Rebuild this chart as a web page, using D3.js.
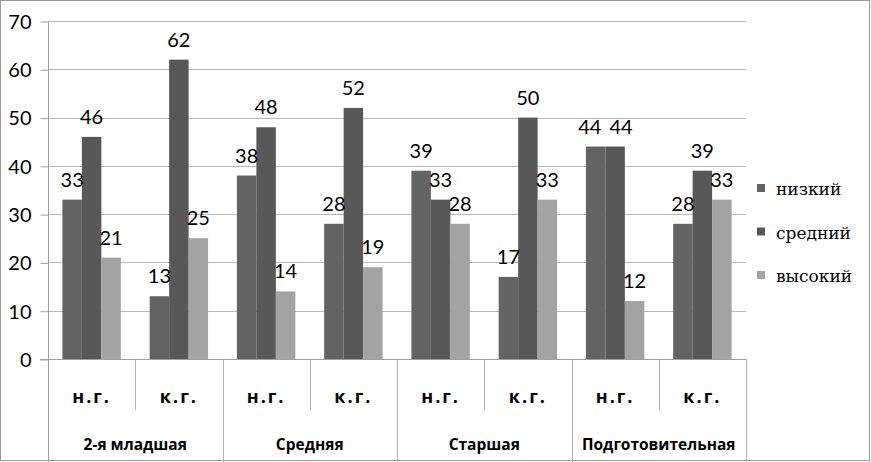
<!DOCTYPE html>
<html><head><meta charset="utf-8">
<script src="https://cdn.jsdelivr.net/npm/d3@7"></script>
<style>body{margin:0;background:#fff}svg{display:block}
</style>
</head><body>
<svg id="c" width="871" height="462"></svg>
<script>
const groups = ["2-я младшая", "Средняя", "Старшая", "Подготовительная"];
const periods = ["н.г.", "к.г."];
const seriesNames = ["низкий", "средний", "высокий"];
const nizkiy  = [33, 13, 38, 28, 39, 17, 44, 28];
const sredniy = [46, 62, 48, 52, 33, 50, 44, 39];
const vysokiy = [21, 25, 14, 19, 28, 33, 12, 33];
const yTicks = [0, 10, 20, 30, 40, 50, 60, 70];
const colors = ["#636363", "#585858", "#a3a3a3"];

const series = [nizkiy, sredniy, vysokiy];
const cats = [];
groups.forEach((g, gi) => periods.forEach((p, pi) => cats.push({g, p, i: gi * 2 + pi})));

const svg = d3.select("#c");
const L = 48, R = 746, T = 21, B = 359;
const x = d3.scaleBand().domain(cats.map(c => c.i)).range([L, R]).paddingInner(0).paddingOuter(0);
const bw = x.bandwidth();
const inner = d3.scaleBand().domain([0,1,2]).range([0, bw]).paddingInner(0).paddingOuter(0.74);
const y = d3.scaleLinear().domain([0, 70]).range([B, T]);

// outer border
svg.append("rect").attr("x", 0.5).attr("y", 0.5).attr("width", 869).attr("height", 460)
  .attr("fill", "none").attr("stroke", "#9a9a9a");

// gridlines
svg.append("g").selectAll("line").data(yTicks.filter(t => t > 0)).join("line")
  .attr("x1", L).attr("x2", R).attr("y1", d => Math.round(y(d)) + 0.5).attr("y2", d => Math.round(y(d)) + 0.5)
  .attr("stroke", "#b8b8b8");

// y axis
const yAxis = d3.axisLeft(y).tickValues(yTicks).tickSize(8).tickPadding(9);
const ga = svg.append("g").attr("transform", `translate(${L + 0.5},0.5)`).call(yAxis);
ga.select(".domain").attr("stroke", "#a0a0a0").attr("d", `M0,${T}V${B}`);
ga.selectAll(".tick line").attr("stroke", "#a0a0a0");
ga.selectAll(".tick text").attr("font-family", "Lato, 'Open Sans', sans-serif").attr("font-size", 20).attr("fill", "#000").attr("dy", "0.34em");

// bars
const bars = svg.append("g");
const labelG = svg.append("g");
series.forEach((vals, si) => {
  bars.selectAll(null).data(cats).join("rect")
    .attr("x", c => x(c.i) + inner(si))
    .attr("y", c => y(vals[c.i]))
    .attr("width", inner.bandwidth())
    .attr("height", c => y(0) - y(vals[c.i]))
    .attr("fill", colors[si]);
});
// labels with simple collision avoidance within each category
cats.forEach(c => {
  const labs = series.map((vals, si) => {
    const t = labelG.append("text")
      .attr("text-anchor", "middle")
      .attr("font-family", "Lato, 'Open Sans', sans-serif").attr("font-size", 20).attr("fill", "#000")
      .text(vals[c.i]);
    const w = t.node().getComputedTextLength();
    return {t, cx: x(c.i) + inner(si) + inner.bandwidth() / 2, by: y(vals[c.i]) - 13, w};
  });
  for (let k = 0; k < labs.length - 1; k++) {
    const a = labs[k], b = labs[k + 1];
    if (Math.abs(a.by - b.by) < 16) {
      const overlap = (a.cx + a.w / 2) - (b.cx - b.w / 2) + 8;
      if (overlap > 0) { a.cx -= overlap / 2; b.cx += overlap / 2; }
    }
  }
  labs.forEach(l => l.t.attr("x", l.cx).attr("y", l.by));
});

// baseline
svg.append("line").attr("x1", L - 8).attr("x2", R).attr("y1", B + 0.5).attr("y2", B + 0.5).attr("stroke", "#a0a0a0");
// left axis continuing down into label area
svg.append("line").attr("x1", L + 0.5).attr("x2", L + 0.5).attr("y1", B).attr("y2", 462).attr("stroke", "#a0a0a0");

// category dividers
cats.forEach(c => {
  const xr = x(c.i) + bw;
  const isGroupEnd = c.i % 2 === 1;
  svg.append("line").attr("x1", Math.round(xr) + 0.5).attr("x2", Math.round(xr) + 0.5)
    .attr("y1", B).attr("y2", isGroupEnd ? 462 : 410).attr("stroke", "#b0b0b0");
});

// sub labels
svg.append("g").selectAll("text").data(cats).join("text")
  .attr("x", c => x(c.i) + bw / 2).attr("y", 403)
  .attr("text-anchor", "middle").attr("font-family", "'Open Sans', sans-serif").attr("font-weight", "bold")
  .attr("font-size", 18).attr("letter-spacing", 2).attr("fill", "#000").text(c => c.p);

// group labels
svg.append("g").selectAll("text").data(groups).join("text")
  .attr("x", (g, gi) => x(gi * 2) + bw).attr("y", 450)
  .attr("text-anchor", "middle").attr("font-family", "'Open Sans', sans-serif").attr("font-weight", "bold")
  .attr("font-size", 15.5).attr("fill", "#000").text(g => g);

// legend
const lg = svg.append("g");
seriesNames.forEach((n, i) => {
  const ly = 190 + i * 43.5;
  lg.append("rect").attr("x", 757).attr("y", ly - 6).attr("width", 8).attr("height", 8).attr("fill", colors[i]);
  lg.append("text").attr("x", 776).attr("y", ly + 5)
    .attr("font-family", "DejaVu Serif")
    .attr("font-size", 17).attr("fill", "#000").text(n);
});
</script>
</body></html>
